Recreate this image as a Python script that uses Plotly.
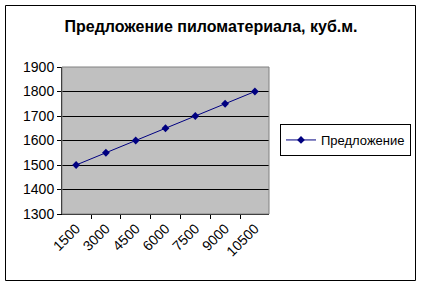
import plotly.graph_objects as go

categories = ["1500", "3000", "4500", "6000", "7500", "9000", "10500"]
supply = [1500, 1550, 1600, 1650, 1700, 1750, 1800]
series_name = "Предложение"
title_text = "Предложение пиломатериала, куб.м."

W, H = 422, 286
L, R, T, B = 62, 269, 67, 214
pw, ph = R - L, B - T

def px(x):
    return (x - L) / pw

def py(y):
    return (B - y) / ph

FONT = "Arial, Liberation Sans"

fig = go.Figure()
fig.add_trace(go.Scatter(
    x=categories, y=supply, name=series_name, mode="lines+markers",
    line=dict(color="#000080", width=1),
    marker=dict(symbol="diamond", size=6, color="#000080"),
))

fig.update_layout(
    width=W, height=H,
    margin=dict(l=L, r=W - R, t=T, b=H - B, pad=0, autoexpand=False),
    paper_bgcolor="white", plot_bgcolor="#C0C0C0",
    font=dict(family=FONT, size=14, color="black"),
    title=dict(text=title_text, x=211 / W, xanchor="center",
               y=1 - 26 / H, yanchor="middle",
               font=dict(size=16, color="black", family=FONT, weight="bold")),
    showlegend=True,
    legend=dict(x=px(280), y=py(140), xanchor="left", yanchor="middle",
                bordercolor="black", borderwidth=1, bgcolor="white",
                font=dict(size=13), itemwidth=30, tracegroupgap=0),
    xaxis=dict(type="category", tickson="boundaries", ticks="outside", ticklen=4,
               tickcolor="black", showline=True, linecolor="black", linewidth=1,
               tickangle=-45, showgrid=False, tickfont=dict(size=14), automargin=False),
    yaxis=dict(range=[1300, 1900], dtick=100, ticks="outside", ticklen=4,
               tickcolor="black", showline=True, linecolor="black", linewidth=1,
               showgrid=True, gridcolor="black", gridwidth=1, zeroline=False,
               tickfont=dict(size=14), automargin=False),
)

fig.add_shape(type="rect", xref="paper", yref="paper", x0=0, x1=1, y0=0, y1=1,
              line=dict(color="#808080", width=1), layer="above")
fig.add_shape(type="rect", xref="paper", yref="paper",
              x0=px(5.5), x1=px(415.5), y0=py(5.5), y1=py(280.5),
              line=dict(color="black", width=1), layer="above")

fig.write_html("out.html")
